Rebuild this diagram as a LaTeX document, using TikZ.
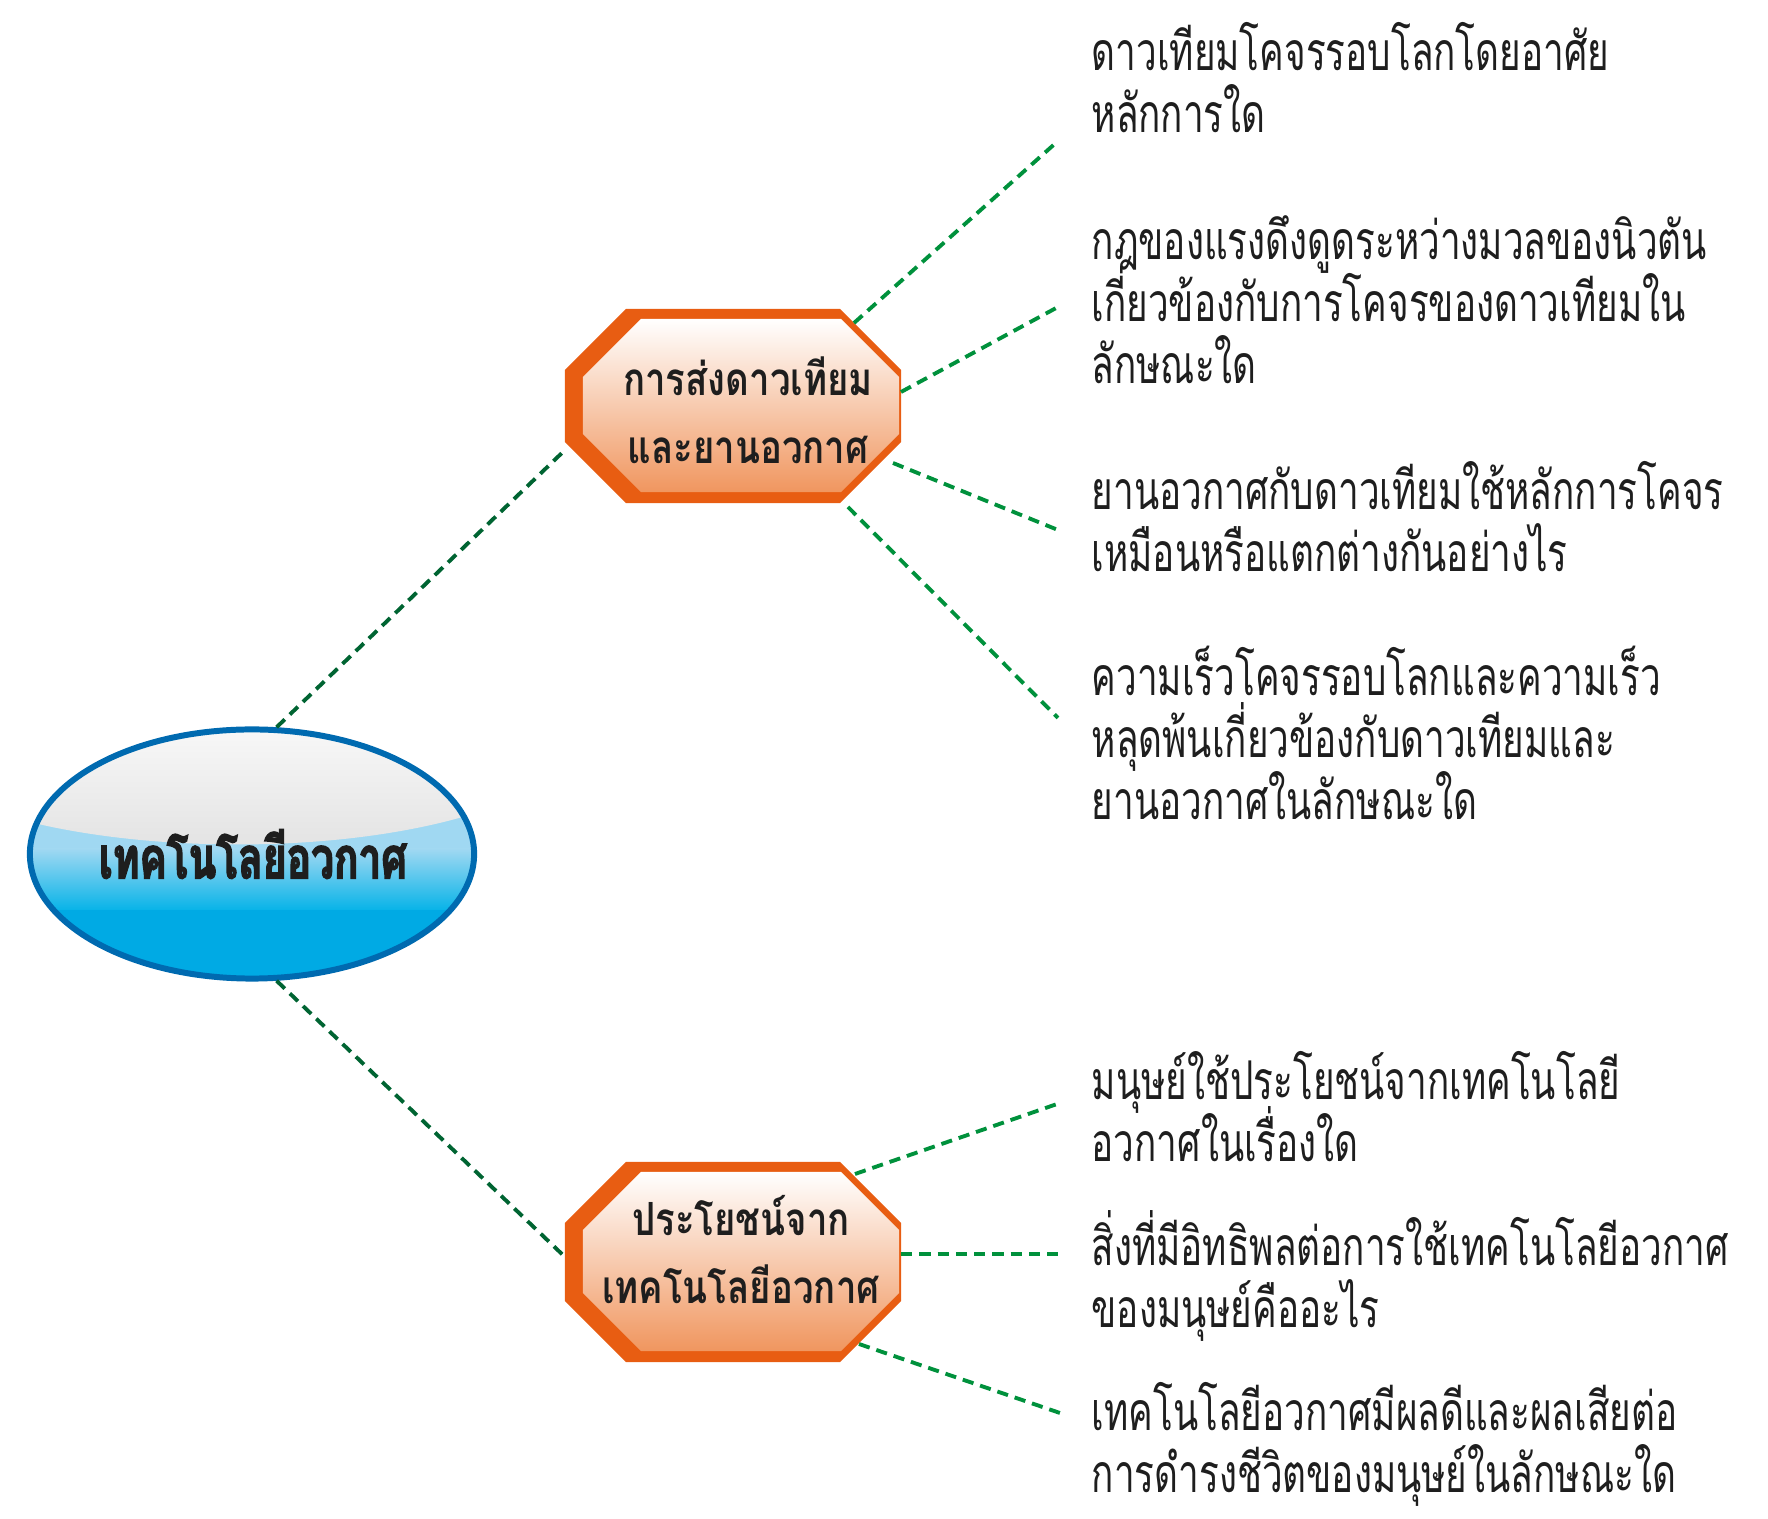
\documentclass[tikz,border=0pt]{standalone}
\usepackage{fontspec}
\usepackage{tikz}
\usetikzlibrary{
  positioning,
  shapes.geometric,
  calc
}
\newfontfamily\thaitext[Script=Thai, FakeStretch=0.69]{Loma}
\newfontfamily\thaihead[Script=Thai, FakeStretch=0.80]{Loma}
\newfontfamily\thaititle[Script=Thai, FakeStretch=0.70, FakeBold=2.5]{Loma}
\newcommand{\tightlines}{\setlength{\lineskiplimit}{-30pt}}
\definecolor{octorange}{RGB}{232,93,18}
\definecolor{octpeach}{RGB}{252,226,208}
\definecolor{octlow}{RGB}{240,150,95}
\definecolor{ellblue}{RGB}{0,106,176}
\definecolor{skylight}{RGB}{160,216,242}
\definecolor{skydark}{RGB}{10,180,232}
\definecolor{skydeep}{RGB}{0,170,228}
\definecolor{glosstop}{RGB}{250,250,250}
\definecolor{glossbot}{RGB}{226,226,226}
\definecolor{linkdark}{RGB}{0,100,50}
\definecolor{linkgreen}{RGB}{0,145,60}
\definecolor{inkgrey}{RGB}{30,30,30}
\tikzset{
  octbox/.style={rectangle, inner sep=0pt,
    minimum width=3.36cm, minimum height=1.94cm,
    path picture={
      \coordinate (nw) at (path picture bounding box.north west);
      \coordinate (ne) at (path picture bounding box.north east);
      \coordinate (se) at (path picture bounding box.south east);
      \coordinate (sw) at (path picture bounding box.south west);
      \fill[octorange] ([shift={(61,0)}]nw) -- ([shift={(-61,0)}]ne)
        -- ([shift={(0,61)}]ne) -- ([shift={(0,-61)}]se)
        -- ([shift={(-61,0)}]se) -- ([shift={(61,0)}]sw)
        -- ([shift={(0,-61)}]sw) -- ([shift={(0,61)}]nw) -- cycle;
      \shade[top color=white, middle color=octpeach, bottom color=octlow]
        ([shift={(76,10)}]nw) -- ([shift={(-60,10)}]ne)
        -- ([shift={(-2,68)}]ne) -- ([shift={(-2,-69)}]se)
        -- ([shift={(-60,-11)}]se) -- ([shift={(76,-11)}]sw)
        -- ([shift={(18,-69)}]sw) -- ([shift={(18,68)}]nw) -- cycle;
    }},
  octtext/.style={align=center, inner sep=0pt, text=inkgrey,
    font=\thaihead\bfseries\fontsize{13}{19.4}\selectfont\tightlines},
  qtext/.style={anchor=west, inner sep=0pt, align=left, text=inkgrey,
    font=\thaitext\fontsize{15.2}{17.6}\selectfont\tightlines},
  trunk/.style={draw=linkdark, line width=1.1pt, dash pattern=on 3.2pt off 2pt},
  twig/.style={draw=linkgreen, line width=1.1pt, dash pattern=on 3.2pt off 2pt},
}

\begin{document}
\begin{tikzpicture}[
  x=0.01cm, y=-0.01cm,
  hub/.style={ellipse, draw=ellblue, line width=1.7pt, fill=skydeep,
    minimum width=4.44cm, minimum height=2.49cm, inner sep=0pt,
    path picture={
      \begin{scope}[shift={(path picture bounding box.center)}, x=1cm, y=1cm]
        \fill[skylight] (-2.4,0.45) rectangle (2.4,0.05);
        \shade[top color=skylight, bottom color=skydark] (-2.4,0.05) rectangle (2.4,-0.55);
        \shade[top color=glosstop, bottom color=glossbot]
          (-2.3,0.34) .. controls (-1,0.0) and (1,0.0) .. (2.3,0.43)
          -- (2.3,1.4) -- (-2.3,1.4) -- cycle;
      \end{scope}
    }}
]
  \useasboundingbox (0,0) rectangle (1768,1519);

  % centre
  \node[hub] (ell) at (252,854) {};
  \node[font=\thaititle\bfseries\fontsize{16.5}{18}\selectfont, text=inkgrey,
        inner sep=0pt] (ellt) at (253,854) {เทคโนโลยีอวกาศ};

  % branch 1
  \node[octbox] (oct1) at (733,406) {};
  \node[octtext] (oct1t) at (748,410) {การส่งดาวเทียม\\และยานอวกาศ};

  % branch 2
  \node[octbox, minimum height=2.0cm] (oct2) at (733,1262) {};
  \node[octtext] (oct2t) at (741,1249.5) {ประโยชน์จาก\\เทคโนโลยีอวกาศ};

  % questions
  \node[qtext] (q1) at (1091,78) {ดาวเทียมโคจรรอบโลกโดยอาศัย\\หลักการใด};
  \node[qtext] (q2) at (1091,300) {กฎของแรงดึงดูดระหว่างมวลของนิวตัน\\เกี่ยวข้องกับการโคจรของดาวเทียมใน\\ลักษณะใด};
  \node[qtext] (q3) at (1091,517) {ยานอวกาศกับดาวเทียมใช้หลักการโคจร\\เหมือนหรือแตกต่างกันอย่างไร};
  \node[qtext] (q4) at (1091,733) {ความเร็วโคจรรอบโลกและความเร็ว\\หลุดพ้นเกี่ยวข้องกับดาวเทียมและ\\ยานอวกาศในลักษณะใด};
  \node[qtext] (q5) at (1091,1107) {มนุษย์ใช้ประโยชน์จากเทคโนโลยี\\อวกาศในเรื่องใด};
  \node[qtext] (q6) at (1091,1276) {สิ่งที่มีอิทธิพลต่อการใช้เทคโนโลยีอวกาศ\\ของมนุษย์คืออะไร};
  \node[qtext] (q7) at (1091,1444) {เทคโนโลยีอวกาศมีผลดีและผลเสียต่อ\\การดำรงชีวิตของมนุษย์ในลักษณะใด};

  % links
  \draw[trunk] (ell.79) -- ([shift={(-168,44)}]oct1.center);
  \draw[trunk] (ell.-79) -- ([shift={(-168,-5)}]oct2.center);
  \draw[twig] ([shift={(121,-83)}]oct1.center) -- ([shift={(-33,63)}]q1.west);
  \draw[twig] ([shift={(168,-14)}]oct1.center) -- ([shift={(-33,7)}]q2.west);
  \draw[twig] ([shift={(160,57)}]oct1.center) -- ([shift={(-33,13)}]q3.west);
  \draw[twig] ([shift={(115,101)}]oct1.center) -- ([shift={(-33,-15)}]q4.west);
  \draw[twig] ([shift={(122,-88)}]oct2.center) -- ([shift={(-31,-4)}]q5.west);
  \draw[twig] ([shift={(168,-8)}]oct2.center) -- ([shift={(-33,-22)}]q6.west);
  \draw[twig] ([shift={(126,82)}]oct2.center) -- ([shift={(-31,-31)}]q7.west);
\end{tikzpicture}
\end{document}
